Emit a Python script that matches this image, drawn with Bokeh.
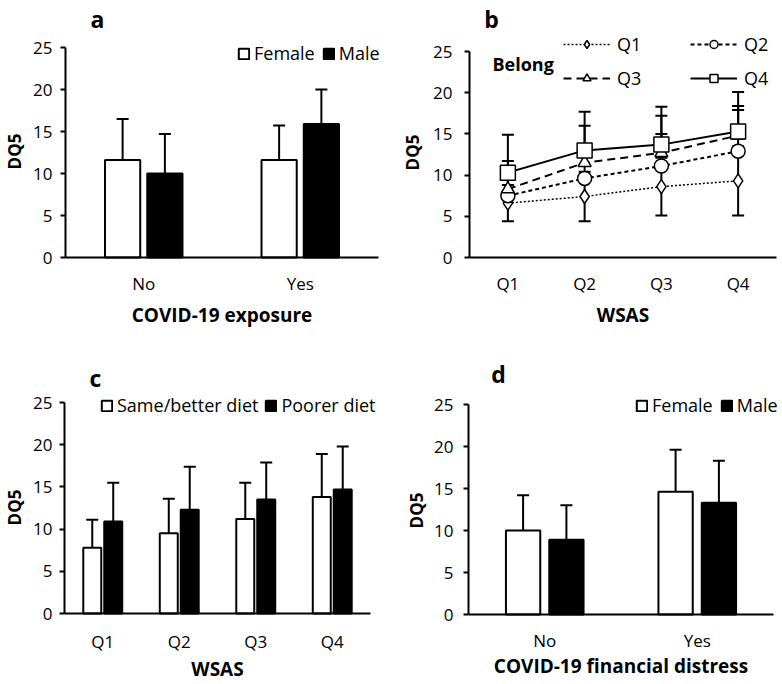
import math
from bokeh.plotting import figure
from bokeh.models import (ColumnDataSource, Range1d, FixedTicker, Whisker,
                          TeeHead, Legend, LegendItem, Label)
from bokeh.transform import dodge
from bokeh.layouts import column, row
from bokeh.embed import file_html
from bokeh.resources import INLINE

FONT = "Open Sans"

# ---------------- data ----------------
# panel a
a_cats = ["No", "Yes"]
a_female = [11.6, 11.6]
a_female_sd = [4.9, 4.1]
a_male = [10.0, 15.9]
a_male_sd = [4.7, 4.1]

# panel b
b_cats = ["Q1", "Q2", "Q3", "Q4"]
b_q1 = [6.6, 7.4, 8.6, 9.3]
b_q1_sd = [2.2, 3.0, 3.5, 4.2]
b_q2 = [7.5, 9.6, 11.1, 12.9]
b_q2_sd = [2.4, 1.6, 3.9, 5.0]
b_q3 = [8.3, 11.5, 12.7, 14.8]
b_q3_sd = [3.4, 4.5, 4.5, 3.6]
b_q4 = [10.3, 13.0, 13.7, 15.3]
b_q4_sd = [4.6, 4.7, 4.6, 4.8]

# panel c
c_cats = ["Q1", "Q2", "Q3", "Q4"]
c_same = [7.8, 9.5, 11.2, 13.8]
c_same_sd = [3.3, 4.1, 4.3, 5.1]
c_poor = [10.9, 12.3, 13.5, 14.7]
c_poor_sd = [4.6, 5.1, 4.4, 5.1]

# panel d
d_cats = ["No", "Yes"]
d_female = [10.0, 14.6]
d_female_sd = [4.2, 5.0]
d_male = [8.9, 13.3]
d_male_sd = [4.1, 5.0]

y_ticks = [0, 5, 10, 15, 20, 25]
Y_TOP = 25

TICK_FS = "17px"
YTITLE_FS = "17px"
XTITLE_FS = "19px"
LEG_FS = "18px"


class Panel:
    """A figure whose frame fills the whole canvas; axes are pinned at data positions."""

    def __init__(self, cats, cx0, cw, row_top, h, ax0, ax1, ft, fb, xtitle, ylab_so, xstand):
        n = len(cats)
        self.cx0, self.row_bot = cx0, row_top + h
        ppx = (ax1 - ax0) / n
        ppy = (fb - ft) / Y_TOP
        xr = Range1d(0.5 - (ax0 - cx0) / ppx, n + 0.5 + (cx0 + cw - ax1) / ppx)
        yr = Range1d(-(row_top + h - fb) / ppy, Y_TOP + (ft - row_top) / ppy)
        p = figure(width=cw, height=h, x_range=xr, y_range=yr,
                   output_backend="svg", toolbar_location=None, tools="",
                   min_border=0, min_border_left=0, min_border_right=0,
                   min_border_top=0, min_border_bottom=0)
        p.outline_line_color = None
        p.grid.visible = False
        p.background_fill_color = "white"
        p.border_fill_color = "white"
        # y axis
        ya = p.yaxis[0]
        ya.fixed_location = 0.5
        ya.bounds = (0, Y_TOP)
        ya.ticker = FixedTicker(ticks=y_ticks)
        ya.axis_line_width = 2
        ya.axis_line_color = "black"
        ya.major_tick_out = 5
        ya.major_tick_in = 0
        ya.major_tick_line_width = 2
        ya.minor_tick_out = 0
        ya.minor_tick_in = 0
        ya.major_label_standoff = ylab_so
        ya.major_label_text_font = FONT
        ya.major_label_text_font_size = TICK_FS
        ya.major_label_text_color = "black"
        # x axis
        self.xpos = list(range(1, n + 1))
        xa = p.xaxis[0]
        xa.fixed_location = 0
        xa.bounds = (0.5, n + 0.5)
        xa.ticker = FixedTicker(ticks=self.xpos)
        xa.major_label_overrides = {x: c for x, c in zip(self.xpos, cats)}
        xa.axis_line_width = 2
        xa.axis_line_color = "black"
        xa.major_tick_out = 0
        xa.major_tick_in = 0
        xa.minor_tick_out = 0
        xa.minor_tick_in = 0
        xa.major_label_standoff = xstand[0]
        xa.major_label_text_font = FONT
        xa.major_label_text_font_size = TICK_FS
        xa.major_label_text_color = "black"
        xa.axis_label = xtitle
        xa.axis_label_text_font = FONT
        xa.axis_label_text_font_size = XTITLE_FS
        xa.axis_label_text_font_style = "bold"
        xa.axis_label_text_color = "black"
        xa.axis_label_standoff = xstand[1]
        self.p = p

    def sx(self, page_x):
        return page_x - self.cx0

    def sy(self, page_y):
        return self.row_bot - page_y

    def text(self, txt, px, py, size, bold=True, align="center", angle=0.0):
        self.p.add_layout(Label(x=self.sx(px), y=self.sy(py), x_units="screen", y_units="screen",
                                text=txt, angle=angle, text_font=FONT, text_font_size=size,
                                text_font_style="bold" if bold else "normal",
                                text_align=align, text_baseline="middle", text_color="black"))


def bar_panel(P, v1, s1, v2, s2, off, width, labels, leg_page, spacing):
    p = P.p
    src = ColumnDataSource(dict(x=P.xpos, v1=v1, v2=v2,
                                u1=[a + b for a, b in zip(v1, s1)],
                                u2=[a + b for a, b in zip(v2, s2)]))
    r1 = p.vbar(x=dodge("x", -off), top="v1", width=width, source=src,
                fill_color="white", line_color="black", line_width=2)
    r2 = p.vbar(x=dodge("x", off), top="v2", width=width, source=src,
                fill_color="black", line_color="black", line_width=2)
    for xo, lo, up in ((-off, "v1", "u1"), (off, "v2", "u2")):
        w = Whisker(base=dodge("x", xo), lower=lo, upper=up, source=src,
                    line_color="black", line_width=2, lower_head=None,
                    upper_head=TeeHead(size=12, line_color="black", line_width=2))
        p.add_layout(w)
    leg = Legend(items=[LegendItem(label=labels[0], renderers=[r1]),
                        LegendItem(label=labels[1], renderers=[r2])],
                 orientation="horizontal", location=(P.sx(leg_page[0]), P.sy(leg_page[1])),
                 glyph_width=13, glyph_height=13,
                 label_standoff=4, spacing=spacing, padding=0, margin=0,
                 border_line_alpha=0, background_fill_alpha=0,
                 label_text_font=FONT, label_text_font_size=LEG_FS, label_height=18,
                 label_text_color="black")
    p.add_layout(leg, "center")


V = math.pi / 2

# ---------------- panel a ----------------
A = Panel(a_cats, 0, 391, 0, 330, 65, 378, 47, 257, "COVID-19 exposure", 8, (14, 4))
bar_panel(A, a_female, a_female_sd, a_male, a_male_sd, 0.135, 0.225,
          ["Female", "Male"], (237, 65), 7)
A.text("a", 97, 18, "23px")
A.text("DQ5", 14, 151, YTITLE_FS, angle=V)

# ---------------- panel b ----------------
B = Panel(b_cats, 391, 391, 0, 330, 469, 776, 51, 257, "WSAS", 12, (14, 4))
series = [
    ("Q1", b_q1, b_q1_sd, "diamond", 14, "2 2", 1.5, True),
    ("Q2", b_q2, b_q2_sd, "circle", 14, "4 3", 2, False),
    ("Q3", b_q3, b_q3_sd, "triangle", 13, "8 5", 2, False),
    ("Q4", b_q4, b_q4_sd, "square", 15, "solid", 2, False),
]
items = []
for name, vals, sds, mk, sz, dash, lw, both in series:
    src = ColumnDataSource(dict(x=B.xpos, v=vals,
                                lo=[v - s if both else v for v, s in zip(vals, sds)],
                                up=[v + s for v, s in zip(vals, sds)]))
    w = Whisker(base="x", lower="lo", upper="up", source=src, level="underlay",
                line_color="black", line_width=2,
                upper_head=TeeHead(size=12, line_color="black", line_width=2),
                lower_head=TeeHead(size=12, line_color="black", line_width=2) if both else None)
    B.p.add_layout(w)
    ln = B.p.line(x="x", y="v", source=src, line_color="black", line_width=lw, line_dash=dash)
    sc = B.p.scatter(x="x", y="v", source=src, marker=mk, size=sz, fill_color="white",
                     line_color="black", line_width=1.5)
    items.append(LegendItem(label=name, renderers=[ln, sc]))
legb = Legend(items=items, orientation="horizontal", ncols=2,
              location=(B.sx(563), B.sy(90)),
              glyph_width=47, glyph_height=20, label_height=20, label_width=63,
              label_standoff=7, spacing=10, padding=0, margin=0,
              border_line_alpha=0, background_fill_alpha=0,
              label_text_font=FONT, label_text_font_size=LEG_FS, label_text_color="black")
B.p.add_layout(legb, "center")
B.text("Belong", 492, 63, "18px", align="left")
B.text("b", 491, 18, "23px")
B.text("DQ5", 412, 152, YTITLE_FS, angle=V)

# ---------------- panel c ----------------
C = Panel(c_cats, 0, 391, 330, 354, 64, 370, 402, 613, "WSAS", 7, (16, 0))
bar_panel(C, c_same, c_same_sd, c_poor, c_poor_sd, 0.137, 0.235,
          ["Same/better diet", "Poorer diet"], (100, 417), 6)
C.text("c", 95, 377, "23px")
C.text("DQ5", 14, 507, YTITLE_FS, angle=V)

# ---------------- panel d ----------------
D = Panel(d_cats, 391, 391, 330, 354, 468, 773, 404, 614, "COVID-19 financial distress", 10, (14, -2))
bar_panel(D, d_female, d_female_sd, d_male, d_male_sd, 0.142, 0.225,
          ["Female", "Male"], (635, 417), 7)
D.text("d", 498, 373, "23px")
D.text("DQ5", 416, 510, YTITLE_FS, angle=V)

layout = column(row(A.p, B.p), row(C.p, D.p))
open("out.html", "w").write(file_html(layout, INLINE))
